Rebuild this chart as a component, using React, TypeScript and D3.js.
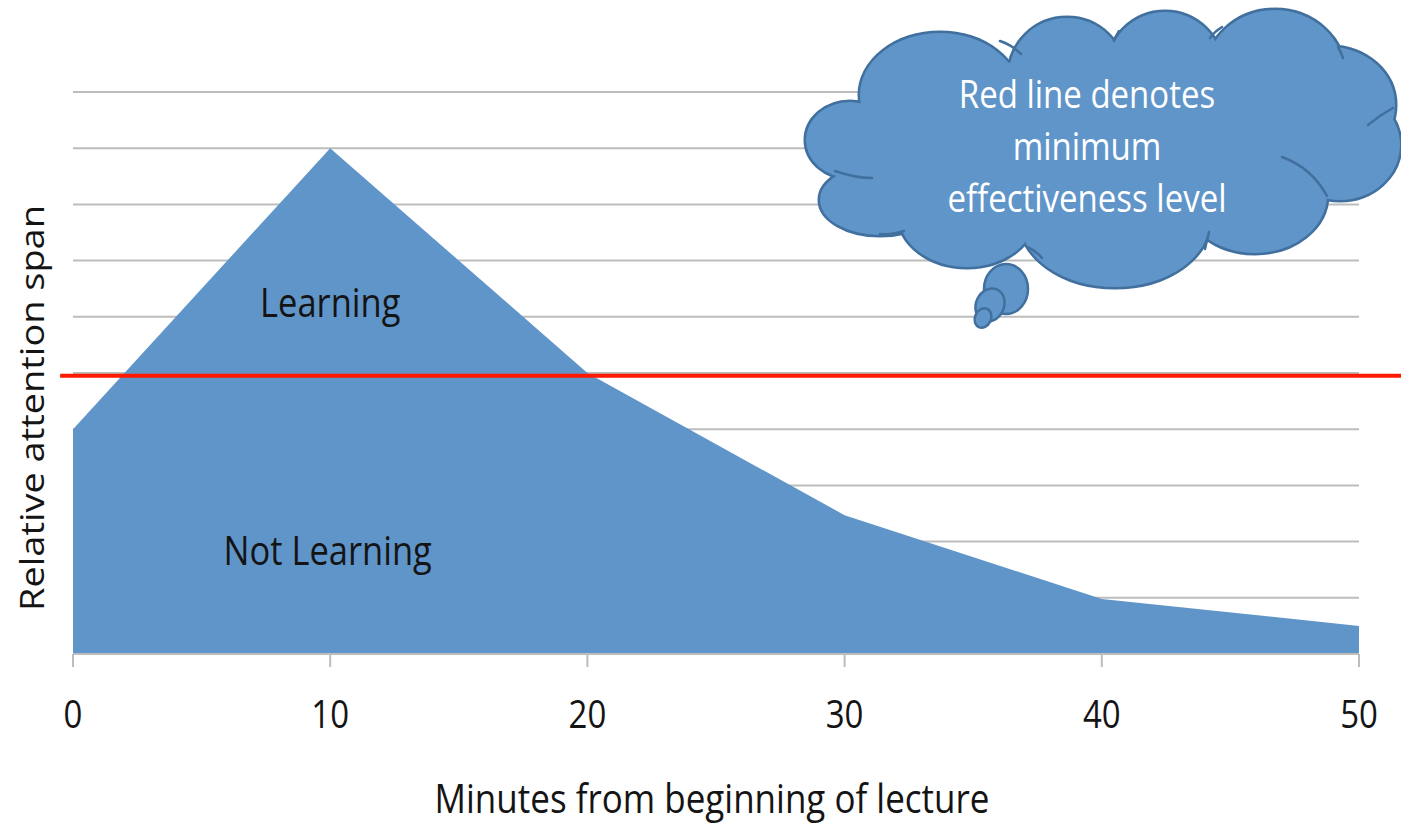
import React from "react";
import * as d3 from "d3";

// ---- data ----
const minutes = [0, 10, 20, 30, 40, 50];
const attention = [4, 9, 5, 2.47, 0.98, 0.5];
const xTicks = [0, 10, 20, 30, 40, 50];
const gridValues = [1, 2, 3, 4, 5, 6, 7, 8, 9, 10];
const threshold = 4.95;
const thresholdSpan = [-0.5, 52.5];
const areaLabels = [
  { text: "Learning", minute: 10.0, value: 6.0 },
  { text: "Not Learning", minute: 9.9, value: 1.58 },
];
const cloudLines = ["Red line denotes", "minimum", "effectiveness level"];

// ---- layout ----
const W = 1401;
const H = 824;
const FONT = "'Open Sans', 'Noto Sans', sans-serif";
const FS = 33;
const FS_BIG = 34.5;
const STRETCH = 1.15;
const BLUE = "#6095c9";
const DARK_BLUE = "#41709e";
const GRID = "#bdbdbd";

const x = d3.scaleLinear().domain([0, 50]).range([73, 1359]);
const y = d3.scaleLinear().domain([0, 10]).range([654, 92]);

// cloud bumps [cx, cy, rx, ry]
const bumps: [number, number, number, number][] = [
  [850, 140, 44, 38],
  [940, 95, 80, 62],
  [880, 200, 60, 35],
  [967, 215, 68, 52],
  [1115, 220, 95, 67],
  [1255, 195, 72, 58],
  [1340, 145, 60, 55],
  [1330, 105, 65, 58],
  [1275, 75, 70, 65],
  [1165, 70, 58, 58],
  [1067, 75, 58, 57],
  [1100, 150, 230, 95],
];
const innerArcs = [
  "M 835 171 Q 855 178 872 178",
  "M 1000 41 Q 1012 45 1021 54",
  "M 880 234 Q 893 235 904 231",
  "M 1027 247 Q 1035 250 1042 258",
  "M 1209 232 Q 1207 240 1205 249",
  "M 1282 157 Q 1312 168 1327 196",
  "M 1368 125 Q 1380 115 1393 108",
  "M 1338 47 Q 1341 52 1343 58",
  "M 1210 38 Q 1214 32 1222 27",
  "M 1114 41 Q 1116 36 1119 31",
];
const bubbles: [number, number, number, number, number][] = [
  [1006, 289, 22, 25, 0],
  [990, 305, 14, 17, 25],
  [983, 318, 8, 10, 25],
];

function STxt(props: {
  x: number;
  y: number;
  children: React.ReactNode;
  fill?: string;
  rotate?: boolean;
  size?: number;
}) {
  const t = props.rotate
    ? `translate(${props.x},${props.y}) rotate(-90) scale(${STRETCH},1)`
    : `translate(${props.x},${props.y}) scale(1,${STRETCH})`;
  return (
    <text
      transform={t}
      textAnchor="middle"
      fontFamily={FONT}
      fontSize={props.size ?? FS}
      fill={props.fill ?? "#141414"}
    >
      {props.children}
    </text>
  );
}

export default function App() {
  const pts = minutes.map((m, i) => [m, attention[i]] as [number, number]);
  const areaGen = d3
    .area<[number, number]>()
    .x((d) => x(d[0]))
    .y0(y(0))
    .y1((d) => y(d[1]));
  const areaPath = areaGen(pts) ?? "";

  return (
    <svg
      width={W}
      height={H}
      style={{ position: "absolute", left: 0, top: 0, background: "#fff" }}
    >
      {/* gridlines */}
      {gridValues.map((g) => (
        <line
          key={g}
          x1={x(0)}
          x2={x(50)}
          y1={y(g)}
          y2={y(g)}
          stroke={GRID}
          strokeWidth={2}
        />
      ))}
      {/* area */}
      <path d={areaPath} fill={BLUE} />
      {/* x axis */}
      <line x1={x(0)} x2={x(50)} y1={y(0)} y2={y(0)} stroke={GRID} strokeWidth={2} />
      {xTicks.map((t) => (
        <g key={t}>
          <line x1={x(t)} x2={x(t)} y1={y(0)} y2={y(0) + 13} stroke={GRID} strokeWidth={2} />
          <STxt x={x(t)} y={728}>
            {t}
          </STxt>
        </g>
      ))}
      {/* threshold */}
      <line
        x1={x(thresholdSpan[0])}
        x2={Math.max(W, x(thresholdSpan[1]))}
        y1={y(threshold)}
        y2={y(threshold)}
        stroke="#ff1800"
        strokeWidth={4}
      />
      {/* area labels */}
      {areaLabels.map((l) => (
        <STxt key={l.text} x={x(l.minute)} y={y(l.value)} size={FS_BIG}>
          {l.text}
        </STxt>
      ))}
      {/* axis titles */}
      <STxt x={712} y={813} size={FS_BIG + 0.5}>
        Minutes from beginning of lecture
      </STxt>
      <STxt x={44} y={408} rotate size={FS}>
        Relative attention span
      </STxt>
      {/* cloud */}
      <g>
        {bumps.map((b, i) => (
          <ellipse key={"s" + i} cx={b[0]} cy={b[1]} rx={b[2]} ry={b[3]} fill={DARK_BLUE} stroke={DARK_BLUE} strokeWidth={5} />
        ))}
        {bumps.map((b, i) => (
          <ellipse key={"f" + i} cx={b[0]} cy={b[1]} rx={b[2]} ry={b[3]} fill={BLUE} />
        ))}
        {innerArcs.map((d, i) => (
          <path key={"a" + i} d={d} fill="none" stroke={DARK_BLUE} strokeWidth={2.5} strokeLinecap="round" />
        ))}
        {bubbles.map((b, i) => (
          <ellipse
            key={"b" + i}
            cx={b[0]}
            cy={b[1]}
            rx={b[2]}
            ry={b[3]}
            transform={`rotate(${b[4]},${b[0]},${b[1]})`}
            fill={BLUE}
            stroke={DARK_BLUE}
            strokeWidth={2.5}
          />
        ))}
        {cloudLines.map((t, i) => (
          <STxt key={t} x={1087} y={108 + i * 52} fill="#ffffff">
            {t}
          </STxt>
        ))}
      </g>
    </svg>
  );
}
